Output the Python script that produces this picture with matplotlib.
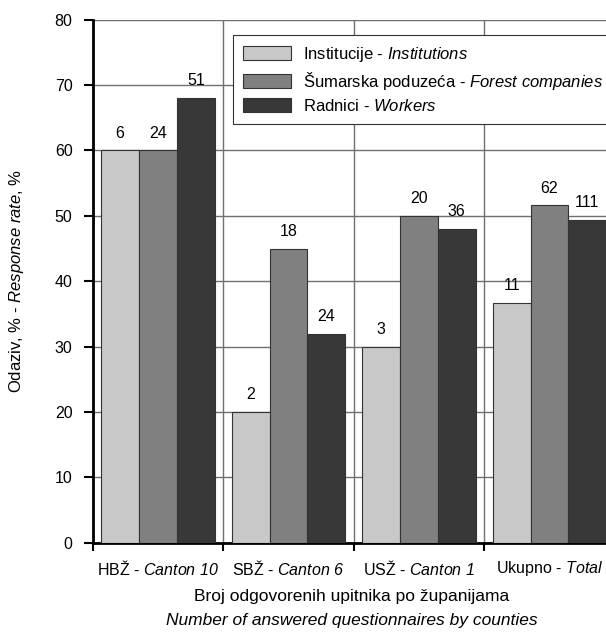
import numpy as np
import matplotlib.pyplot as plt
from matplotlib.ticker import FixedLocator

plt.rcParams['font.family'] = ['Liberation Sans', 'DejaVu Sans']
# math text is only used for the italic English parts
plt.rcParams['mathtext.fontset'] = 'custom'
plt.rcParams['mathtext.rm'] = 'Liberation Sans:italic'
plt.rcParams['mathtext.it'] = 'Liberation Sans:italic'

# data
categories = [r"HBŽ - $\it{Canton\ 10}$", r"SBŽ - $\it{Canton\ 6}$",
              r"USŽ - $\it{Canton\ 1}$", r"Ukupno - $\it{Total}$"]
series_names = [r"Institucije - $\it{Institutions}$",
                r"Šumarska poduzeća - $\it{Forest\ companies}$",
                r"Radnici - $\it{Workers}$"]
institutions = [60, 20, 30, 36.7]
forest = [60, 45, 50, 51.6]
workers = [68, 32, 48, 49.4]
inst_counts = [6, 2, 3, 11]
forest_counts = [24, 18, 20, 62]
worker_counts = [51, 24, 36, 111]

colors = ['#c8c8c8', '#808080', '#383838']

fig = plt.figure(figsize=(6.06, 6.32), dpi=100)
ax = fig.add_axes([92.7 / 606, 89.3 / 632, 522 / 606, 523 / 632])

x = np.arange(len(categories))
w = 0.29
values = [institutions, forest, workers]
counts = [inst_counts, forest_counts, worker_counts]
for i, (vals, cnts) in enumerate(zip(values, counts)):
    ax.bar(x + (i - 1) * w, vals, w, color=colors[i], edgecolor='#333333',
           linewidth=0.8, label=series_names[i], zorder=3)
    for xi, v, c in zip(x + (i - 1) * w, vals, cnts):
        ax.annotate(str(c), (xi, v), xytext=(0, 7), textcoords='offset points',
                    ha='center', va='bottom', fontsize=11.5, zorder=4)

ax.set_xlim(-0.5, 3.5)
ax.set_ylim(0, 80)
ax.set_yticks(range(0, 81, 10))
ax.tick_params(axis='y', labelsize=11.5, length=6.5, width=1.5, direction='out', pad=8)

# ticks at category boundaries, labels at centres
ax.xaxis.set_major_locator(FixedLocator([-0.5, 0.5, 1.5, 2.5, 3.5]))
ax.set_xticklabels([])
ax.xaxis.set_minor_locator(FixedLocator(x))
ax.set_xticklabels(categories, minor=True)
ax.tick_params(axis='x', which='major', length=6, width=1.5, direction='out')
ax.tick_params(axis='x', which='minor', length=0, labelsize=11.5, pad=12)

ax.grid(True, axis='both', which='major', color='#707070', linewidth=1, zorder=0)
ax.set_axisbelow(True)

for s in ['top', 'right']:
    ax.spines[s].set_visible(False)
ax.spines['left'].set_linewidth(2)
ax.spines['bottom'].set_linewidth(2)

ax.set_ylabel(r"Odaziv, % - $\it{Response\ rate}$, %", fontsize=12, labelpad=21)

fig.text(352 / 606, 1 - 596 / 632, "Broj odgovorenih upitnika po županijama",
         ha='center', va='center', fontsize=12.5)
fig.text(352 / 606, 1 - 620 / 632, "Number of answered questionnaires by counties",
         ha='center', va='center', fontsize=12.5, style='italic')

leg = ax.legend(loc='upper left', bbox_to_anchor=(233 / 606, 1 - 35 / 632),
                bbox_transform=fig.transFigure, fontsize=12, frameon=True,
                fancybox=False, edgecolor='#333333', framealpha=1,
                handlelength=2.9, handleheight=0.9, handletextpad=0.7,
                labelspacing=0.35, borderpad=0.6, borderaxespad=0)
leg.get_frame().set_linewidth(0.8)
leg.set_zorder(5)

plt.savefig('out.png', dpi=100)
